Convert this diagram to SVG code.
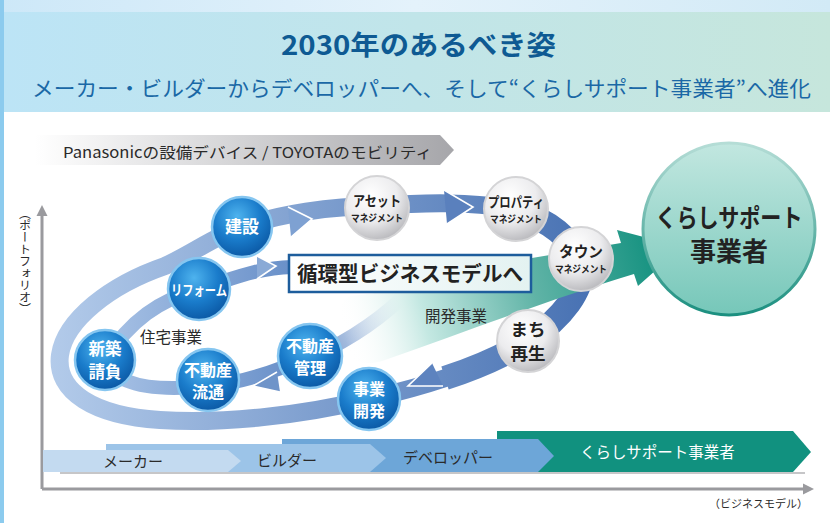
<svg xmlns="http://www.w3.org/2000/svg" width="830" height="523" viewBox="0 0 830 523">
<defs>
<linearGradient id="hdr" x1="0" y1="0" x2="1" y2="0"><stop offset="0" stop-color="#bce4f6"/><stop offset="1" stop-color="#c6e6dc"/></linearGradient>
<linearGradient id="sky" x1="0" y1="0" x2="1" y2="0"><stop offset="0" stop-color="#cde8f8"/><stop offset="0.5" stop-color="#e4f2fb"/><stop offset="1" stop-color="#d2eaf6"/></linearGradient>
<linearGradient id="lnL" x1="0" y1="0" x2="1" y2="0"><stop offset="0" stop-color="#1f639b" stop-opacity="0"/><stop offset="0.3" stop-color="#1f639b"/><stop offset="1" stop-color="#1f639b"/></linearGradient>
<linearGradient id="lnR" x1="0" y1="0" x2="1" y2="0"><stop offset="0" stop-color="#1f639b"/><stop offset="0.7" stop-color="#1f639b"/><stop offset="1" stop-color="#1f639b" stop-opacity="0"/></linearGradient>
<linearGradient id="ban" x1="0" y1="0" x2="1" y2="0"><stop offset="0" stop-color="#ffffff"/><stop offset="1" stop-color="#a6a6aa"/></linearGradient>
<linearGradient id="outer" gradientUnits="userSpaceOnUse" x1="50" y1="0" x2="600" y2="0"><stop offset="0" stop-color="#b3cbea"/><stop offset="1" stop-color="#4670b2"/></linearGradient>
<linearGradient id="inner" gradientUnits="userSpaceOnUse" x1="100" y1="0" x2="320" y2="0"><stop offset="0" stop-color="#a9c3e6"/><stop offset="1" stop-color="#5f88c4"/></linearGradient>
<linearGradient id="fade" gradientUnits="userSpaceOnUse" x1="300" y1="360" x2="400" y2="300"><stop offset="0" stop-color="#5f88c4"/><stop offset="1" stop-color="#5f88c4" stop-opacity="0"/></linearGradient>
<linearGradient id="teal" gradientUnits="userSpaceOnUse" x1="345" y1="340" x2="660" y2="255"><stop offset="0" stop-color="#ffffff" stop-opacity="0"/><stop offset="0.25" stop-color="#c4e8e2"/><stop offset="0.6" stop-color="#5fb3a6"/><stop offset="1" stop-color="#13917f"/></linearGradient>
<linearGradient id="box" x1="0" y1="0" x2="1" y2="0"><stop offset="0" stop-color="#ffffff"/><stop offset="1" stop-color="#e3f2f1"/></linearGradient>
<radialGradient id="blue" cx="0.42" cy="0.32" r="0.7"><stop offset="0" stop-color="#4eb3ee"/><stop offset="0.55" stop-color="#1a7ccb"/><stop offset="1" stop-color="#0b58a4"/></radialGradient>
<radialGradient id="gray" cx="0.4" cy="0.3" r="0.75"><stop offset="0" stop-color="#ffffff"/><stop offset="0.55" stop-color="#ececee"/><stop offset="1" stop-color="#b4b4b8"/></radialGradient>
<linearGradient id="big" x1="0" y1="0" x2="0" y2="1"><stop offset="0" stop-color="#c2e7e0"/><stop offset="1" stop-color="#76c7b9"/></linearGradient>
<linearGradient id="bigS" x1="0" y1="0" x2="0" y2="1"><stop offset="0" stop-color="#b5ddd6"/><stop offset="1" stop-color="#1b8f7f"/></linearGradient>
</defs>
<style>
.jp{font-family:"Noto Sans CJK JP","Noto Sans",sans-serif}
.bc{fill:url(#blue);stroke:#86c6f0;stroke-width:2.5}
.gc{fill:url(#gray);stroke:#d4d4d6;stroke-width:2}
.bt{font-family:"Noto Sans CJK JP",sans-serif;font-weight:bold;fill:#ffffff;text-anchor:middle}
.gt{font-family:"Noto Sans CJK JP",sans-serif;font-weight:bold;fill:#222222;text-anchor:middle}
.lab{font-family:"Noto Sans CJK JP",sans-serif;fill:#2a2a2a}
.hd{stroke:#ffffff;stroke-width:1.6;fill:none;stroke-linejoin:miter}
</style>

<!-- background -->
<rect x="0" y="0" width="830" height="523" fill="#ffffff"/>
<rect x="0" y="0" width="830" height="12" fill="url(#sky)"/>
<rect x="4" y="12" width="826" height="100" fill="url(#hdr)"/>
<rect x="0" y="0" width="4" height="523" fill="#8ccbee"/>

<g id="title">
<line x1="14" y1="44" x2="272" y2="44" stroke="url(#lnL)" stroke-width="1.3"/>
<line x1="563" y1="44" x2="818" y2="44" stroke="url(#lnR)" stroke-width="1.3"/>
<text class="jp" x="281" y="55" font-size="27" font-weight="bold" fill="#0e5a93" textLength="275" lengthAdjust="spacingAndGlyphs">2030年のあるべき姿</text>
<text class="jp" x="32" y="96" font-size="21" fill="#1a68a6" textLength="779" lengthAdjust="spacingAndGlyphs">メーカー・ビルダーからデベロッパーへ、そして“くらしサポート事業者”へ進化</text>
</g>

<g id="banner">
<polygon points="35,135 440,135 454,150 440,165 35,165" fill="url(#ban)"/>
<text class="lab" x="63" y="158" font-size="15" fill="#333333" textLength="369" lengthAdjust="spacingAndGlyphs">Panasonicの設備デバイス / TOYOTAのモビリティ</text>
</g>

<g id="axes">
<line x1="42" y1="214" x2="42" y2="489" stroke="#9a9a9e" stroke-width="3"/>
<polygon points="42,205 36.5,216 47.5,216" fill="#9a9a9e"/>
<line x1="42" y1="489" x2="804" y2="489" stroke="#9a9a9e" stroke-width="3"/>
<polygon points="814,489 803,483.5 803,494.5" fill="#9a9a9e"/>
<text class="lab" x="25" y="207" font-size="12" writing-mode="vertical-rl">（ポートフォリオ）</text>
<text class="lab" x="709" y="508" font-size="11">（ビジネスモデル）</text>
</g>

<g id="stages">
<rect x="60" y="472" width="745" height="2" fill="#a0a0a4" opacity="0.6"/>
<polygon points="497,431 793,431 811,452 793,472 497,472" fill="#11917f"/>
<polygon points="282,439 538,439 554,456 538,472 282,472" fill="#6da6d8"/>
<polygon points="106,444 370,444 386,458 370,472 106,472" fill="#9cc4e8"/>
<polygon points="43,450 228,450 241,461 228,472 43,472" fill="#c3daf0"/>
<text class="lab" x="103" y="467" font-size="15">メーカー</text>
<text class="lab" x="257" y="466" font-size="15">ビルダー</text>
<text class="lab" x="403" y="463" font-size="15">デベロッパー</text>
<text class="jp" x="580" y="458" font-size="15.5" fill="#ffffff">くらしサポート事業者</text>
</g>

<g id="connectors" fill="none">
<!-- outer loop -->
<path d="M 242,227 C 280,214 330,206 377,206 C 430,202 470,202 516,209 C 545,214 570,235 581,259 C 590,285 560,320 528,341 C 490,365 430,385 369,399 C 300,416 220,424 160,420 C 95,416 55,392 60,355 C 65,320 110,285 165,266 C 195,252 215,236 242,227" stroke="url(#outer)" stroke-width="18" stroke-linecap="round"/>
<path d="M 520,212 C 548,220 572,238 580,262 C 588,288 560,320 528,341 C 500,358 470,370 445,378" stroke="url(#outer)" stroke-width="24"/>
<!-- inner loop -->
<path d="M 105,360 C 130,320 160,300 199,289 C 230,280 255,268 292,267" stroke="url(#inner)" stroke-width="14"/>
<path d="M 105,360 C 115,388 160,391 208,386 C 240,383 275,372 310,356" stroke="url(#inner)" stroke-width="14"/>
<path d="M 300,362 C 340,346 372,326 402,298" stroke="url(#fade)" stroke-width="14"/>
<!-- arrow heads -->
<path d="M 288,207 L 312,219 L 291,237 Z" fill="#7ea1d2"/>
<polyline class="hd" points="288,207 312,219 291,237"/>
<path d="M 444,190 L 473,207 L 447,224 Z" fill="#5a80bd"/>
<polyline class="hd" points="444,190 473,207 447,224"/>
<path d="M 257,256 L 276,266 L 257,279 Z" fill="#8aaad6"/>
<polyline class="hd" points="257,256 276,266 257,279"/>
<path d="M 277,372 L 253,386 L 280,392 Z" fill="#6f94c9"/>
<polyline class="hd" points="277,372 253,386 280,392"/>
<path d="M 432,363 L 408,386 L 443,386 Z" fill="#5d83bf"/>
<polyline class="hd" points="432,363 408,386 443,386"/>
<!-- teal development arrow -->
<path d="M 350,296 C 410,290 470,275 532,258 L 621,243 L 617,230 L 682,247 L 638,286 L 634,274 C 560,296 470,330 385,360 C 362,368 342,360 337,343 C 333,322 338,302 350,296 Z" fill="url(#teal)" stroke="none"/>
</g>

<g id="cycle-box">
<rect x="289" y="255" width="242" height="37" fill="url(#box)" stroke="#1d5d9c" stroke-width="2.5"/>
<text class="jp" x="297" y="281" font-size="21" font-weight="bold" fill="#222222" textLength="226" lengthAdjust="spacingAndGlyphs">循環型ビジネスモデルへ</text>
</g>

<text class="lab" id="lbl-housing" x="140" y="343" font-size="15.5">住宅事業</text>
<text class="lab" id="lbl-dev" x="425" y="322" font-size="15.5">開発事業</text>

<g id="n-kensetsu"><circle class="bc" cx="242" cy="227" r="30"/><text class="bt" x="242" y="233" font-size="17">建設</text></g>
<g id="n-reform"><circle class="bc" cx="199" cy="289" r="31"/><text class="bt" x="199" y="295" font-size="14" textLength="56" lengthAdjust="spacingAndGlyphs">リフォーム</text></g>
<g id="n-shinchiku"><circle class="bc" cx="105" cy="360" r="30"/><text class="bt" font-size="16.5"><tspan x="105" y="355">新築</tspan><tspan x="105" y="378">請負</tspan></text></g>
<g id="n-ryutsu"><circle class="bc" cx="208" cy="380" r="31"/><text class="bt" font-size="16"><tspan x="208" y="376">不動産</tspan><tspan x="208" y="398">流通</tspan></text></g>
<g id="n-kanri"><circle class="bc" cx="310" cy="356" r="32"/><text class="bt" font-size="16"><tspan x="310" y="352">不動産</tspan><tspan x="310" y="374">管理</tspan></text></g>
<g id="n-jigyo"><circle class="bc" cx="369" cy="399" r="31"/><text class="bt" font-size="16"><tspan x="369" y="395">事業</tspan><tspan x="369" y="417">開発</tspan></text></g>

<g id="n-asset"><circle class="gc" cx="377" cy="208" r="32"/><text class="gt" x="377" y="206" font-size="14" textLength="48" lengthAdjust="spacingAndGlyphs">アセット</text><text class="gt" x="377" y="222" font-size="10" textLength="52" lengthAdjust="spacingAndGlyphs">マネジメント</text></g>
<g id="n-property"><circle class="gc" cx="516" cy="209" r="32"/><text class="gt" x="516" y="207" font-size="14" textLength="56" lengthAdjust="spacingAndGlyphs">プロパティ</text><text class="gt" x="516" y="223" font-size="10" textLength="52" lengthAdjust="spacingAndGlyphs">マネジメント</text></g>
<g id="n-town"><circle class="gc" cx="581" cy="259" r="32"/><text class="gt" x="581" y="257" font-size="15" textLength="44" lengthAdjust="spacingAndGlyphs">タウン</text><text class="gt" x="581" y="273" font-size="10" textLength="52" lengthAdjust="spacingAndGlyphs">マネジメント</text></g>
<g id="n-machi"><circle class="gc" cx="528" cy="341" r="31"/><text class="gt" font-size="17.5"><tspan x="528" y="336">まち</tspan><tspan x="528" y="360">再生</tspan></text></g>

<g id="n-kurashi">
<circle cx="729" cy="229" r="86" fill="url(#big)" stroke="url(#bigS)" stroke-width="3"/>
<text class="gt" x="729" y="227" font-size="25" textLength="147" lengthAdjust="spacingAndGlyphs">くらしサポート</text>
<text class="gt" x="729" y="261" font-size="26">事業者</text>
</g>
</svg>
